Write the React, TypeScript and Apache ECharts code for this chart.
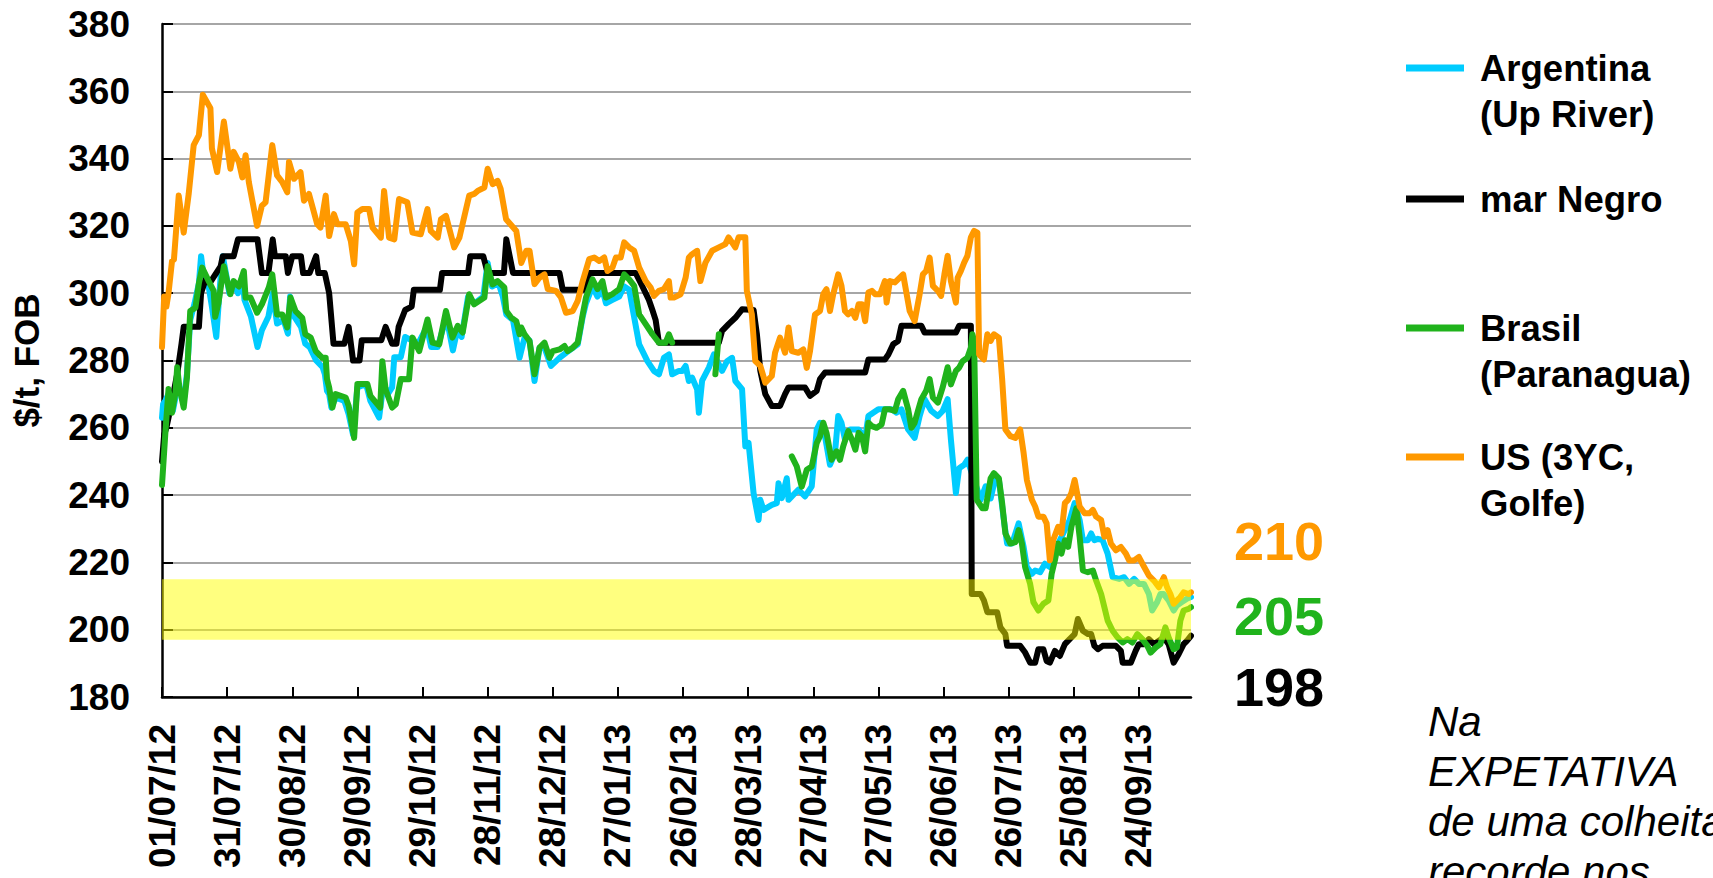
import React, { useEffect, useRef } from 'react';
import * as echarts from 'echarts';

// x = days since 01/07/2012, y = $/t FOB
const xTickDays = [0, 30, 60, 90, 120, 150, 180, 210, 240, 270, 300, 330, 360, 390, 420, 450];
const xTickLabels = ['01/07/12', '31/07/12', '30/08/12', '29/09/12', '29/10/12', '28/11/12', '28/12/12', '27/01/13', '26/02/13', '28/03/13', '27/04/13', '27/05/13', '26/06/13', '26/07/13', '25/08/13', '24/09/13'];
const xMax = 474;
const yMin = 180;
const yMax = 380;
const yStep = 20;

const seriesNames = ['Argentina (Up River)', 'mar Negro', 'Brasil (Paranagua)', 'US (3YC, Golfe)'];
const legendLabels = ['Argentina\n(Up River)', 'mar Negro', 'Brasil\n(Paranagua)', 'US (3YC,\nGolfe)'];
const seriesColors = ['#00CCFF', '#000000', '#20B31C', '#FF9900'];

const bandRange = [197, 215];
const lastValues = ['210', '205', '198'];
const lastColors = ['#FF9900', '#20B31C', '#000000'];
const noteLines = ['Na', 'EXPETATIVA', 'de uma colheita', 'recorde nos'];

const argentina = [[0,263],[0.5,267],[1.5,268],[3,270],[5,265],[6.5,270],[8,272],[10,268],[11.5,276],[13,292],[15,297],[17,303],[18,311],[19,306],[21,304],[23,296],[25,287],[27,305],[28,311],[30,304],[31,300],[33,303],[35,300],[37,305],[38,298],[41,293],[44,284],[46,289],[49,293],[51,300],[53,291],[56,292],[58,288],[59,299],[61,293],[64,290],[66,285],[68,284],[71,280],[74,278],[75,276],[76,271],[77,270],[78,266],[80,269],[84,268],[86,264],[88,258],[90,272],[94,273],[96,268],[100,263],[102,273],[104,270],[106,272],[107,281],[110,281],[112,287],[115,286],[118,285],[122,290],[124,284],[127,284],[131,293],[134,283],[136,289],[138,287],[141,299],[144,297],[148,299],[150,309],[152,302],[155,303],[157,299],[158.6,293.7],[161.7,292],[164.7,280.8],[167,286.8],[169.3,286],[171.6,273.9],[173.9,283.8],[176.2,283.8],[179.2,278.4],[183.1,280.8],[186.1,282.3],[191.5,284.8],[193.8,293],[195.3,297],[198.3,302],[200.6,299],[202.9,301],[204.5,297],[207.5,298],[210.6,299],[212.9,302],[215.2,301],[216.7,295.7],[219.8,284.8],[223.6,279.8],[226.6,276.9],[228.9,275.9],[231.2,280.8],[233.5,281.8],[235,275.9],[238.1,276.9],[239.6,276.9],[241.2,278.4],[242.7,273.9],[244.2,274.9],[246.5,271.4],[247.3,264.5],[248.8,274],[251.9,277.9],[254.2,281.8],[258,276.9],[260.3,279.8],[262.6,280.8],[264.1,273.9],[267.2,271.5],[268.7,254.5],[270.2,255.5],[272.5,240.6],[274.8,232.6],[275.6,238.6],[277.1,235.6],[280.9,237.1],[283.2,237.6],[284,243.5],[285.5,239.1],[287.8,245],[288.6,238.6],[293.1,241.6],[296.2,239.6],[299.3,242.6],[301.6,259.5],[303.1,261.5],[305.4,257.5],[307.7,249],[310,252.5],[311.5,263.5],[313,261.5],[314.6,256.5],[316.9,259.5],[320.9,259.5],[323.9,257],[325.4,263.5],[330,265.5],[333,265.5],[336.1,265.5],[338.4,264.5],[340.6,265.5],[343.7,259.5],[346.7,257],[349,263.5],[351.3,268.5],[354.4,265],[357.4,263.5],[359.6,265],[361.9,268.5],[363.4,256.5],[365.7,240.6],[367.2,248],[369.5,249],[371,250.5],[377.1,238.6],[379.4,242.6],[381.7,239],[384,245.5],[385.5,244.5],[387.8,232.6],[389.3,225.6],[391.6,225.6],[394.6,231.6],[396.9,224.6],[398.4,218.6],[400.7,216.6],[402.2,217.6],[404.5,217.1],[406.7,219.6],[409,218.6],[411.3,223.6],[415.1,228.6],[418.1,232.6],[420.4,237.6],[422.7,232.6],[424.2,226.6],[426.5,226.6],[428,228.6],[429.5,226.6],[431.1,227],[433.3,226.6],[435.6,222.6],[437.9,215.6],[440.9,215.1],[443.2,215.6],[445.5,213.6],[447.8,215.1],[450,213.6],[452.3,213.6],[454.6,210.6],[456.1,205.7],[458.4,208.2],[459.9,210.6],[461.4,210.6],[463.7,208.7],[466,205.7],[467.5,207.2],[469.8,208.2],[472.1,209.2],[474,209.7]];

const marNegro = [[0,250],[1,258],[2,260],[4,266],[7,276],[9,285],[10,290],[17,290],[18,300],[20,304],[22,303],[24,305],[27,308],[28,311],[33,311],[35,316],[44,316],[46,306],[49,306],[51,316],[52,311],[57,311],[58,306],[60,311],[64,311],[65,306],[68,306],[71,311],[72,306],[75,306],[77,300],[79,285],[84,285],[86,290],[88,280],[91,280],[92,286],[101,286],[103,290],[106,285],[108,285],[109,290],[112,295],[115,296],[116,301],[128,301],[129,306],[141,306],[142,311],[148,311],[150,306],[157.5,306],[158.6,316],[161.7,306],[183.1,306],[184.6,301],[195.3,301],[196.8,306],[218.2,306],[221.3,302],[224.3,298],[225.9,295],[227.4,292],[228.9,285.3],[256.5,285.3],[258,288.8],[261,290.8],[264.1,292.7],[267.2,295.2],[272.5,295],[274,288],[275.6,277],[277.9,270],[280.9,266.5],[284.7,266.5],[287,270],[288.6,272],[296.2,272],[298.5,269.5],[301.6,271],[303.1,274.5],[305.4,276.4],[323.9,276.4],[325.4,280.3],[333,280.3],[334.6,281.8],[336.8,284.8],[339.1,285.8],[340.6,290.3],[349.8,290.3],[351.3,288.3],[365.7,288.3],[367.2,290.3],[372.6,290.3],[373,210.6],[377.1,210.6],[378.6,208.7],[380.2,205.2],[384.7,205.2],[386.2,200.7],[388.5,198.7],[389.3,195.2],[395.3,195.2],[397.6,193.2],[399.9,190.2],[402.2,190.2],[403.7,194.2],[406,194.2],[407.5,190.7],[409,190.2],[411.3,193.7],[413.6,192.2],[415.9,195.7],[418.1,197.2],[420.4,198.7],[421.9,203.2],[424.2,199.7],[426.5,198.7],[428,198.7],[429.5,195.2],[431.1,194.2],[433.3,195.2],[439.4,195.2],[441.7,193.7],[442.5,190.2],[446.3,190.2],[448.5,193.7],[450,195.7],[452.3,195.7],[454.6,197.2],[456.9,195.7],[459.2,196.7],[461.5,197.7],[463.7,195.7],[466,190.2],[468.3,192.7],[470.6,195.7],[472.1,196.7],[474,198.2]];

const brasil = [[0,243],[1.5,258],[3,271.5],[4.6,264.5],[6.2,270.5],[7,278],[8,272],[10,266],[11.5,275],[13,294.7],[15.4,295.7],[17,303],[18.5,307.6],[21.5,303.6],[23.8,300.7],[24.5,293],[26,297],[28.5,308],[30,303.6],[31.5,299.7],[33,303.6],[35.4,302],[37.7,306.6],[38.5,298.7],[40.8,298.7],[43.8,294.2],[46,296.7],[49.2,301.7],[50.8,305.6],[53,293.7],[55.4,293.7],[57.7,289.8],[59.2,298.7],[61.5,294.7],[64.6,292.7],[66,287.8],[68.5,286.8],[70.8,282.8],[73.8,280.8],[75.4,280.8],[76,274.5],[77,272],[78.5,266],[80,270],[84.6,269],[86,266.5],[88.5,257],[90,273],[94.6,273],[96,269.5],[100.5,266],[101.5,279.8],[103,271.4],[106,266],[107.7,267],[110,274.5],[113.8,274.4],[115.4,286.8],[118.5,282.8],[122.3,292.2],[124.6,285.3],[127.7,284.8],[130.8,294.7],[133.8,286.8],[136.2,290.3],[138.5,288.3],[141.5,299.7],[143.8,296.7],[148.5,298.7],[150,308],[152.3,302.6],[154.6,303.6],[157.7,301.7],[158.6,294.7],[160.9,292.7],[163.2,291.7],[164.7,287.8],[165.5,289.8],[167,287.8],[169.3,285.8],[171.6,275.9],[173.9,283.8],[176.2,285.3],[178.5,280.8],[180,282.8],[183.1,283.3],[185.4,284.3],[186.9,282.8],[189.2,283.8],[191.5,285.3],[193.8,293.7],[195.3,298.7],[198.3,304.1],[200.6,301.2],[202.9,303.6],[204.5,298.7],[207.5,299.7],[210.6,301.2],[212.9,305.6],[215.2,304.1],[217.5,302.2],[219.8,293.7],[222.8,290.8],[225.9,287.8],[228.9,285.3],[232,285.3],[233.5,287.8],[235,285.3],[235.5,null],[254.9,275.9],[256.5,287.8],[257,null],[290.1,251.5],[292.4,248.5],[294.7,242.5],[297,247.5],[299.3,248.5],[301.6,255.5],[303.1,257.5],[304.6,261.5],[306.1,258.5],[308.4,250.5],[310.7,253],[312.3,250.5],[313.8,254.5],[316.1,259],[317.8,256.5],[319.4,253.5],[320.9,258.5],[322.4,257.5],[323.9,253],[325.4,261.5],[327,260.5],[329.2,260],[331.5,261],[333,265.5],[335.3,265.5],[337.6,265],[339.1,268.5],[341.4,271],[343.7,265.5],[345.2,260],[346.7,261.5],[348.2,265],[349.8,268.5],[352,271],[353.6,274.5],[355.1,269],[357.4,267.5],[359.6,272],[361.9,278],[363.4,272.9],[365.7,276.9],[367.2,277.9],[368.8,279.8],[371,280.8],[372.6,283.8],[373.3,287.8],[374.1,285.8],[375.3,238.6],[377.9,236.1],[379.4,236.1],[381.7,245],[383.2,246.5],[385.5,245],[387,237.6],[388.5,228.6],[390.8,225.6],[393.1,226],[394.6,229.6],[396.1,225.6],[397.6,218.6],[399.9,213.6],[401.4,208.2],[403.7,205.7],[406,207.7],[408.3,208.7],[409.8,216.6],[411.3,220.6],[412.8,225.6],[414.3,222.6],[415.9,226.6],[417.4,224.6],[418.9,230.6],[421.2,236.1],[422.7,227.6],[424.2,217.6],[426.5,217.1],[428.8,217.6],[430.3,214.6],[432.6,210.6],[434.1,206.7],[435.6,202.7],[437.9,199.7],[440.2,197.7],[442.5,196.2],[444.7,197.2],[447,196.2],[449.3,198.7],[451.6,197.2],[453.9,195.2],[455.4,193.2],[457.7,194.7],[459.9,195.7],[462.2,200.7],[463.7,197.7],[466,194.2],[467.5,194.7],[469.1,202.7],[470.6,205.7],[472.9,206.2],[474,206.7]];

const us = [[0,284],[1,299],[2,296],[3,300],[4.6,309.5],[5.5,310],[7.7,329],[10,318],[12.3,329.5],[14.6,344],[17,347],[18.8,359],[22.3,355],[23,343],[25.4,336],[28.5,351],[31.5,337],[33,342],[35.4,339],[37,334.4],[38.5,341],[40,333],[43.8,320],[46,326],[47.7,327],[50.8,344],[53,335],[55.4,333],[57.7,330],[58.5,339],[60.8,334],[63.8,336],[65.4,327.5],[67.7,329.5],[71.5,320.5],[73,319.5],[75.4,329],[77,317],[79.2,323.5],[80.8,320.5],[84.6,320.5],[87,315.5],[88.5,308.6],[90,324],[92.3,325],[95.4,325],[97,319.5],[100.8,316.5],[102.3,330.4],[104.6,316.5],[107,316],[109.2,328],[113,327],[115.4,318],[119.2,317.5],[122.3,325],[123.8,318.5],[127,316.5],[128.5,322],[130.8,323],[134.6,313.6],[137,316.5],[141.5,329],[143.8,329.5],[145.4,330.4],[148.5,331.4],[150,337],[152.3,332.4],[154.6,333.4],[156,331],[158.5,322],[163.2,318.5],[165.5,309],[167.8,312.6],[169.3,312.6],[171.6,302.7],[173.9,304.6],[176.2,305.6],[177.7,301.2],[181.5,300.7],[183.8,298.7],[186.1,294.2],[189.2,294.7],[191.5,297.7],[193.8,303.6],[196.8,310.1],[199.1,310.6],[201.4,309.6],[203.7,310.6],[205.2,306.6],[207.5,307.6],[209.1,310.6],[211.3,310.6],[212.9,315.1],[215.2,313.6],[217.5,312.6],[219.8,307.6],[222.8,303.6],[225.1,301.7],[226.6,299.2],[228.9,300.7],[231.2,301.2],[233.5,303.6],[234.3,298.7],[235.8,298.7],[238.9,299.7],[241.2,304.6],[242.7,310.6],[244.2,311.6],[246.5,312.6],[248,303.6],[250.3,309],[253.4,312.6],[256.5,313.6],[259.5,314.6],[261,316.6],[264.1,313.6],[265.6,316.6],[268.7,316.6],[269.4,300.7],[271.7,293.7],[273.3,279.8],[275.6,278.4],[277.9,273.4],[280.9,275.4],[282.4,282.3],[284.7,286.8],[287,282.3],[288.6,289.8],[290.1,282.8],[293.1,282.3],[295.4,283.3],[297,277.8],[298.5,282.8],[300.8,293.7],[303.1,294.7],[304.6,299.7],[306.1,301.2],[307.7,294.7],[309.2,299.7],[311.5,305.6],[313,302.2],[314.6,294.7],[316.1,293.7],[317.8,294.7],[319.4,292.7],[320.9,296.7],[322.4,296.7],[323.9,291.7],[325.4,300.2],[327,300.7],[328.5,299.7],[330.8,299.7],[333,303.6],[333.8,297.2],[335.3,303.6],[337.6,303.2],[341.4,305.6],[344.4,294.7],[346.7,291.7],[349,299.7],[350.5,305.6],[352,306.6],[353.6,310.6],[355.1,302.2],[357.4,300.7],[358.9,299.2],[360.4,305.6],[361.9,311.1],[363.4,303.6],[365.7,297.2],[366.5,304.6],[368,306.6],[369.5,309.1],[371,311.1],[372.6,316.6],[374.1,318.5],[375.6,318],[376.4,281.8],[378.6,280.3],[380.2,287.8],[381.7,285.8],[383.2,287.8],[385.5,286.8],[387,274.5],[388.5,259.5],[390.8,257.5],[393.1,257],[395.3,259.5],[396.9,252.5],[398.4,244.5],[400.7,238.6],[402.2,236.6],[403.7,233.6],[406,233.6],[407.5,231.6],[409,220.6],[410.5,226.6],[412.8,230.6],[414.3,228.6],[415.9,237.6],[417.4,238.6],[418.9,240.6],[420.4,244.5],[422.7,236.6],[425,234.6],[427.3,234.6],[428.8,235.6],[430.3,233.6],[432.6,232.6],[434.1,227.6],[435.6,229.6],[437.1,225.6],[439.4,223.6],[441.7,224.6],[444,222.6],[445.5,220.6],[447.8,220.6],[450,221.6],[451.6,219.6],[454.6,216.1],[456.9,214.6],[459.2,212.6],[461.5,215.6],[463,212.6],[464.5,210.6],[466,207.7],[467.5,208.7],[469.1,209.7],[470.6,211.1],[472.9,210.6],[474,211.1]];

const seriesData = [argentina, marNegro, brasil, us];

const FONT = "'Liberation Sans', Arial, Helvetica, sans-serif";

export default function App() {
  const ref = useRef<HTMLDivElement>(null);

  useEffect(() => {
    if (!ref.current) return;
    const chart = echarts.init(ref.current, null, { renderer: 'svg' });

    const gridLeft = 162;
    const gridTop = 24;
    const gridWidth = 1029;
    const gridHeight = 673;

    const legendY = [68, 199, 328, 457];
    const legendGraphics: any[] = [];
    legendLabels.forEach((lbl, i) => {
      legendGraphics.push({
        type: 'line',
        shape: { x1: 1406, y1: legendY[i], x2: 1464, y2: legendY[i] },
        style: { stroke: seriesColors[i], lineWidth: 7 },
      });
      legendGraphics.push({
        type: 'text',
        x: 1480,
        y: legendY[i] - 23,
        style: {
          text: lbl,
          fill: '#000',
          fontSize: 36.5,
          fontWeight: 'bold',
          fontFamily: FONT,
          lineHeight: 46,
          align: 'left',
          verticalAlign: 'top',
        },
      });
    });

    const lastY = [541, 616, 687];
    const lastGraphics = lastValues.map((v, i) => ({
      type: 'text',
      x: 1279,
      y: lastY[i],
      style: {
        text: v,
        fill: lastColors[i],
        fontSize: 54,
        fontWeight: 'bold',
        fontFamily: FONT,
        align: 'center',
        verticalAlign: 'middle',
      },
    }));

    const noteGraphic = {
      type: 'text',
      x: 1428,
      y: 696,
      style: {
        text: noteLines.join('\n'),
        fill: '#000',
        fontSize: 42,
        fontStyle: 'italic',
        fontFamily: FONT,
        lineHeight: 50,
        align: 'left',
        verticalAlign: 'top',
      },
    };

    const lineSeries = seriesNames.map((name, i) => ({
      type: 'line',
      name,
      data: seriesData[i],
      showSymbol: false,
      symbol: 'none',
      connectNulls: false,
      lineStyle: { color: seriesColors[i], width: 6, join: 'round', cap: 'round' },
      itemStyle: { color: seriesColors[i] },
      z: 2,
    }));

    const bandSeries = {
      type: 'custom',
      name: 'faixa',
      z: 4,
      silent: true,
      data: [[0, bandRange[0], xMax, bandRange[1]]],
      encode: { x: [0, 2], y: [1, 3] },
      renderItem: (params: any, api: any) => {
        const p1 = api.coord([api.value(0), api.value(3)]);
        const p2 = api.coord([api.value(2), api.value(1)]);
        return {
          type: 'rect',
          shape: { x: p1[0], y: p1[1], width: p2[0] - p1[0], height: p2[1] - p1[1] },
          style: { fill: 'rgba(255,255,0,0.5)' },
        };
      },
    };

    chart.setOption({
      animation: false,
      backgroundColor: '#ffffff',
      textStyle: { fontFamily: FONT },
      grid: { left: gridLeft, top: gridTop, width: gridWidth, height: gridHeight, containLabel: false },
      xAxis: {
        type: 'value',
        min: 0,
        max: xMax,
        interval: 30,
        axisLine: { show: true, lineStyle: { color: '#000', width: 2.5 } },
        axisTick: { show: true, inside: true, length: 10, customValues: xTickDays, lineStyle: { color: '#000', width: 2 } },
        splitLine: { show: false },
        axisLabel: {
          customValues: xTickDays,
          rotate: 90,
          margin: 27,
          color: '#000',
          fontSize: 37,
          fontWeight: 'bold',
          fontFamily: FONT,
          formatter: (v: number) => {
            const i = xTickDays.indexOf(Math.round(v));
            return i >= 0 ? xTickLabels[i] : '';
          },
        },
      },
      yAxis: {
        type: 'value',
        min: yMin,
        max: yMax,
        interval: yStep,
        name: '$/t, FOB',
        nameLocation: 'middle',
        nameRotate: 90,
        nameGap: 118,
        nameTextStyle: { color: '#000', fontSize: 35, fontWeight: 'bold', fontFamily: FONT },
        axisLine: { show: true, lineStyle: { color: '#000', width: 2.5 } },
        axisTick: { show: true, inside: true, length: 11, lineStyle: { color: '#000', width: 2 } },
        splitLine: { show: true, lineStyle: { color: '#A6A6A6', width: 2 } },
        axisLabel: { color: '#000', fontSize: 37, fontWeight: 'bold', fontFamily: FONT, margin: 32 },
      },
      series: [...lineSeries, bandSeries],
      graphic: [...legendGraphics, ...lastGraphics, noteGraphic],
    });

    return () => chart.dispose();
  }, []);

  return <div ref={ref} style={{ position: 'absolute', left: 0, top: 0, width: 1713, height: 878 }} />;
}
